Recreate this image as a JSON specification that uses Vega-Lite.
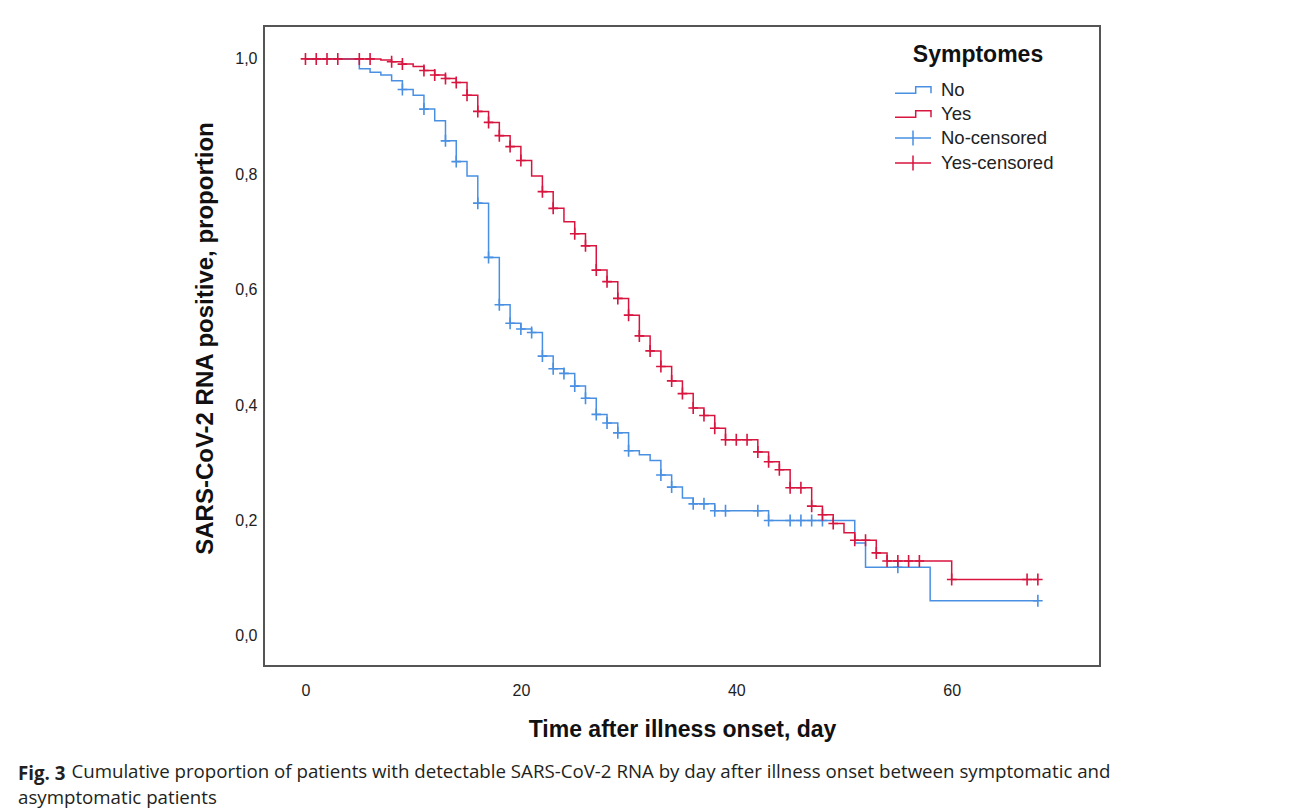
{
  "$schema": "https://vega.github.io/schema/vega-lite/v6.json",
  "width": 836,
  "height": 640,
  "autosize": {"type": "none"},
  "padding": {"left": 264, "top": 26, "right": 190, "bottom": 146},
  "background": "white",
  "config": {
    "view": {"stroke": "#555555", "strokeWidth": 2},
    "font": "Liberation Sans"
  },
  "title": {
    "text": "Fig. 3",
    "subtitle": ["\u200b\u00a0\u00a0\u00a0\u00a0\u00a0\u00a0\u00a0\u00a0\u00a0\u00a0\u00a0Cumulative proportion of patients with detectable SARS-CoV-2 RNA by day after illness onset between symptomatic and", "asymptomatic patients"],
    "orient": "bottom",
    "anchor": "start",
    "frame": "group",
    "dx": -246,
    "offset": 24,
    "font": "Open Sans",
    "fontSize": 18.7,
    "fontWeight": "bold",
    "color": "#231f20",
    "subtitleFont": "Open Sans",
    "subtitleFontSize": 18.7,
    "subtitleFontWeight": "normal",
    "subtitleColor": "#231f20",
    "subtitleLineHeight": 26,
    "subtitlePadding": -21
  },
  "datasets": {
    "curves": [
      {"g": "No", "t": 0, "s": 1.0}, {"g": "No", "t": 5, "s": 0.983}, {"g": "No", "t": 6, "s": 0.977},
      {"g": "No", "t": 7, "s": 0.972}, {"g": "No", "t": 8, "s": 0.962}, {"g": "No", "t": 9, "s": 0.947},
      {"g": "No", "t": 10, "s": 0.937}, {"g": "No", "t": 11, "s": 0.913}, {"g": "No", "t": 12, "s": 0.893},
      {"g": "No", "t": 13, "s": 0.858}, {"g": "No", "t": 14, "s": 0.822}, {"g": "No", "t": 15, "s": 0.797},
      {"g": "No", "t": 16, "s": 0.75}, {"g": "No", "t": 17, "s": 0.656}, {"g": "No", "t": 18, "s": 0.574},
      {"g": "No", "t": 19, "s": 0.542}, {"g": "No", "t": 20, "s": 0.532}, {"g": "No", "t": 21, "s": 0.526},
      {"g": "No", "t": 22, "s": 0.485}, {"g": "No", "t": 23, "s": 0.463}, {"g": "No", "t": 24, "s": 0.455},
      {"g": "No", "t": 25, "s": 0.433}, {"g": "No", "t": 26, "s": 0.412}, {"g": "No", "t": 27, "s": 0.384},
      {"g": "No", "t": 28, "s": 0.369}, {"g": "No", "t": 29, "s": 0.352}, {"g": "No", "t": 30, "s": 0.321},
      {"g": "No", "t": 31, "s": 0.314}, {"g": "No", "t": 32, "s": 0.304}, {"g": "No", "t": 33, "s": 0.279},
      {"g": "No", "t": 34, "s": 0.258}, {"g": "No", "t": 35, "s": 0.239}, {"g": "No", "t": 36, "s": 0.229},
      {"g": "No", "t": 38, "s": 0.217}, {"g": "No", "t": 43, "s": 0.2}, {"g": "No", "t": 51, "s": 0.161},
      {"g": "No", "t": 52, "s": 0.119}, {"g": "No", "t": 58, "s": 0.061}, {"g": "No", "t": 68, "s": 0.061},
      {"g": "Yes", "t": 0, "s": 1.0}, {"g": "Yes", "t": 7, "s": 0.998}, {"g": "Yes", "t": 8, "s": 0.995},
      {"g": "Yes", "t": 9, "s": 0.991}, {"g": "Yes", "t": 10, "s": 0.987}, {"g": "Yes", "t": 11, "s": 0.98},
      {"g": "Yes", "t": 12, "s": 0.972}, {"g": "Yes", "t": 13, "s": 0.966}, {"g": "Yes", "t": 14, "s": 0.959},
      {"g": "Yes", "t": 15, "s": 0.937}, {"g": "Yes", "t": 16, "s": 0.909}, {"g": "Yes", "t": 17, "s": 0.89},
      {"g": "Yes", "t": 18, "s": 0.867}, {"g": "Yes", "t": 19, "s": 0.848}, {"g": "Yes", "t": 20, "s": 0.824},
      {"g": "Yes", "t": 21, "s": 0.797}, {"g": "Yes", "t": 22, "s": 0.77}, {"g": "Yes", "t": 23, "s": 0.741},
      {"g": "Yes", "t": 24, "s": 0.718}, {"g": "Yes", "t": 25, "s": 0.697}, {"g": "Yes", "t": 26, "s": 0.676},
      {"g": "Yes", "t": 27, "s": 0.634}, {"g": "Yes", "t": 28, "s": 0.614}, {"g": "Yes", "t": 29, "s": 0.585},
      {"g": "Yes", "t": 30, "s": 0.556}, {"g": "Yes", "t": 31, "s": 0.52}, {"g": "Yes", "t": 32, "s": 0.494},
      {"g": "Yes", "t": 33, "s": 0.467}, {"g": "Yes", "t": 34, "s": 0.442}, {"g": "Yes", "t": 35, "s": 0.42},
      {"g": "Yes", "t": 36, "s": 0.395}, {"g": "Yes", "t": 37, "s": 0.382}, {"g": "Yes", "t": 38, "s": 0.36},
      {"g": "Yes", "t": 39, "s": 0.34}, {"g": "Yes", "t": 42, "s": 0.319}, {"g": "Yes", "t": 43, "s": 0.302},
      {"g": "Yes", "t": 44, "s": 0.288}, {"g": "Yes", "t": 45, "s": 0.257}, {"g": "Yes", "t": 47, "s": 0.225},
      {"g": "Yes", "t": 48, "s": 0.21}, {"g": "Yes", "t": 49, "s": 0.195}, {"g": "Yes", "t": 50, "s": 0.179},
      {"g": "Yes", "t": 51, "s": 0.166}, {"g": "Yes", "t": 53, "s": 0.144}, {"g": "Yes", "t": 54, "s": 0.13},
      {"g": "Yes", "t": 60, "s": 0.098}, {"g": "Yes", "t": 68, "s": 0.098}
    ],
    "censored": [
      {"g": "No-censored", "t": 9, "s": 0.947}, {"g": "No-censored", "t": 11, "s": 0.913},
      {"g": "No-censored", "t": 13, "s": 0.858}, {"g": "No-censored", "t": 14, "s": 0.822},
      {"g": "No-censored", "t": 16, "s": 0.75}, {"g": "No-censored", "t": 17, "s": 0.656},
      {"g": "No-censored", "t": 18, "s": 0.574}, {"g": "No-censored", "t": 19, "s": 0.542},
      {"g": "No-censored", "t": 20, "s": 0.532}, {"g": "No-censored", "t": 21, "s": 0.526},
      {"g": "No-censored", "t": 22, "s": 0.485}, {"g": "No-censored", "t": 23, "s": 0.463},
      {"g": "No-censored", "t": 24, "s": 0.455}, {"g": "No-censored", "t": 25, "s": 0.433},
      {"g": "No-censored", "t": 26, "s": 0.412}, {"g": "No-censored", "t": 27, "s": 0.384},
      {"g": "No-censored", "t": 28, "s": 0.369}, {"g": "No-censored", "t": 29, "s": 0.352},
      {"g": "No-censored", "t": 30, "s": 0.321}, {"g": "No-censored", "t": 33, "s": 0.279},
      {"g": "No-censored", "t": 34, "s": 0.258}, {"g": "No-censored", "t": 36, "s": 0.229},
      {"g": "No-censored", "t": 37, "s": 0.229}, {"g": "No-censored", "t": 38, "s": 0.217},
      {"g": "No-censored", "t": 39, "s": 0.217}, {"g": "No-censored", "t": 42, "s": 0.217},
      {"g": "No-censored", "t": 43, "s": 0.2}, {"g": "No-censored", "t": 45, "s": 0.2},
      {"g": "No-censored", "t": 46, "s": 0.2}, {"g": "No-censored", "t": 47, "s": 0.2},
      {"g": "No-censored", "t": 48, "s": 0.2}, {"g": "No-censored", "t": 55, "s": 0.119},
      {"g": "No-censored", "t": 68, "s": 0.061},
      {"g": "Yes-censored", "t": 0, "s": 1.0}, {"g": "Yes-censored", "t": 1, "s": 1.0},
      {"g": "Yes-censored", "t": 2, "s": 1.0}, {"g": "Yes-censored", "t": 3, "s": 1.0},
      {"g": "Yes-censored", "t": 5, "s": 1.0}, {"g": "Yes-censored", "t": 6, "s": 1.0},
      {"g": "Yes-censored", "t": 8, "s": 0.995}, {"g": "Yes-censored", "t": 9, "s": 0.991},
      {"g": "Yes-censored", "t": 11, "s": 0.98}, {"g": "Yes-censored", "t": 12, "s": 0.972},
      {"g": "Yes-censored", "t": 13, "s": 0.966}, {"g": "Yes-censored", "t": 14, "s": 0.959},
      {"g": "Yes-censored", "t": 15, "s": 0.937}, {"g": "Yes-censored", "t": 16, "s": 0.909},
      {"g": "Yes-censored", "t": 17, "s": 0.89}, {"g": "Yes-censored", "t": 18, "s": 0.867},
      {"g": "Yes-censored", "t": 19, "s": 0.848}, {"g": "Yes-censored", "t": 20, "s": 0.824},
      {"g": "Yes-censored", "t": 22, "s": 0.77}, {"g": "Yes-censored", "t": 23, "s": 0.741},
      {"g": "Yes-censored", "t": 25, "s": 0.697}, {"g": "Yes-censored", "t": 26, "s": 0.676},
      {"g": "Yes-censored", "t": 27, "s": 0.634}, {"g": "Yes-censored", "t": 28, "s": 0.614},
      {"g": "Yes-censored", "t": 29, "s": 0.585}, {"g": "Yes-censored", "t": 30, "s": 0.556},
      {"g": "Yes-censored", "t": 31, "s": 0.52}, {"g": "Yes-censored", "t": 32, "s": 0.494},
      {"g": "Yes-censored", "t": 33, "s": 0.467}, {"g": "Yes-censored", "t": 34, "s": 0.442},
      {"g": "Yes-censored", "t": 35, "s": 0.42}, {"g": "Yes-censored", "t": 36, "s": 0.395},
      {"g": "Yes-censored", "t": 37, "s": 0.382}, {"g": "Yes-censored", "t": 38, "s": 0.36},
      {"g": "Yes-censored", "t": 39, "s": 0.34}, {"g": "Yes-censored", "t": 40, "s": 0.34},
      {"g": "Yes-censored", "t": 41, "s": 0.34}, {"g": "Yes-censored", "t": 42, "s": 0.319},
      {"g": "Yes-censored", "t": 43, "s": 0.302}, {"g": "Yes-censored", "t": 44, "s": 0.288},
      {"g": "Yes-censored", "t": 45, "s": 0.257}, {"g": "Yes-censored", "t": 46, "s": 0.257},
      {"g": "Yes-censored", "t": 47, "s": 0.225}, {"g": "Yes-censored", "t": 48, "s": 0.21},
      {"g": "Yes-censored", "t": 49, "s": 0.195}, {"g": "Yes-censored", "t": 51, "s": 0.166},
      {"g": "Yes-censored", "t": 52, "s": 0.166}, {"g": "Yes-censored", "t": 53, "s": 0.144},
      {"g": "Yes-censored", "t": 54, "s": 0.13}, {"g": "Yes-censored", "t": 55, "s": 0.13},
      {"g": "Yes-censored", "t": 56, "s": 0.13}, {"g": "Yes-censored", "t": 57, "s": 0.13},
      {"g": "Yes-censored", "t": 60, "s": 0.098}, {"g": "Yes-censored", "t": 67, "s": 0.098},
      {"g": "Yes-censored", "t": 68, "s": 0.098}
    ]
  },
  "encoding": {
    "x": {
      "field": "t", "type": "quantitative",
      "scale": {"domain": [-3.85, 73.77], "nice": false, "zero": false},
      "axis": {
        "values": [0, 20, 40, 60], "title": "Time after illness onset, day",
        "grid": false, "domain": false, "ticks": false,
        "labelFontSize": 16, "labelPadding": 16, "labelColor": "#222222", "labelFlush": false,
        "titleFontSize": 23, "titleFontWeight": "bold", "titleColor": "#111111", "titlePadding": 20
      }
    },
    "y": {
      "field": "s", "type": "quantitative",
      "scale": {"domain": [-0.052, 1.057], "nice": false, "zero": false},
      "axis": {
        "values": [0, 0.2, 0.4, 0.6, 0.8, 1.0],
        "labelExpr": "replace(format(datum.value, '.1f'), '.', ',')",
        "title": "SARS-CoV-2 RNA positive, proportion",
        "grid": false, "domain": false, "ticks": false,
        "labelFontSize": 16, "labelPadding": 7, "labelColor": "#222222", "labelFlush": false,
        "titleFontSize": 24, "titleFontWeight": "bold", "titleColor": "#111111", "titlePadding": 17, "titleY": 312
      }
    },
    "color": {
      "field": "g", "type": "nominal",
      "scale": {"domain": ["No", "Yes", "No-censored", "Yes-censored"], "range": ["#4a90e2", "#d7153f", "#4a90e2", "#d7153f"]},
      "legend": {
        "title": "Symptomes", "orient": "none", "legendX": 638, "legendY": 18,
        "titleFontSize": 23, "titleFontWeight": "bold", "titleColor": "#111111", "titleAnchor": "middle", "titlePadding": 12,
        "labelFontSize": 18.5, "labelColor": "#222222", "labelOffset": 17,
        "symbolSize": 400, "rowPadding": 3, "padding": 0,
        "encode": {
          "symbols": {
            "update": {
              "shape": {"signal": "indexof(datum.value, 'censored') > 0 ? 'M-1.8,0H1.8M0,-0.75V0.75' : 'M-1.8,0.32H0.27V-0.32H1.8V0.32'"},
              "fill": {"value": "transparent"},
              "stroke": {"scale": "color", "field": "value"},
              "strokeWidth": {"value": 1.5},
              "opacity": {"value": 1}
            }
          }
        }
      }
    }
  },
  "layer": [
    {
      "data": {"name": "curves"},
      "mark": {"type": "line", "interpolate": "step-after", "strokeWidth": 1.5}
    },
    {
      "data": {"name": "censored"},
      "mark": {"type": "point", "shape": "M-0.8,0H0.8M0,-1V1", "size": 144, "filled": false, "strokeWidth": 1.6, "opacity": 1}
    }
  ]
}
